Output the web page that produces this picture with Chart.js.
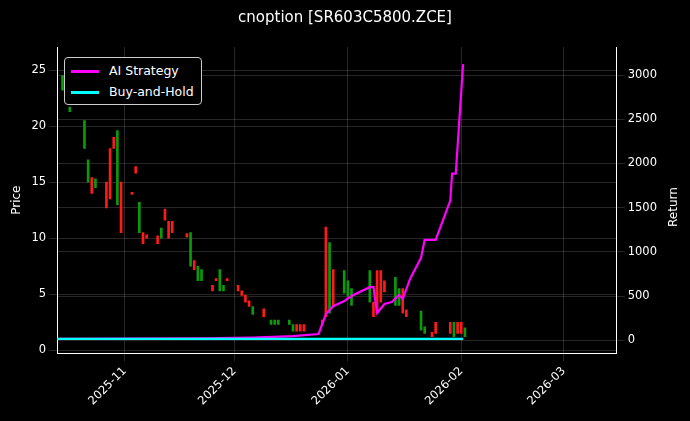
<!DOCTYPE html>
<html><head><meta charset="utf-8">
<script src="https://cdn.jsdelivr.net/npm/chart.js@4"></script>
<style>
body{margin:0;background:#000;width:690px;height:421px;overflow:hidden;font-family:"DejaVu Sans",sans-serif}
#wrap{position:relative;width:690px;height:421px}
#title{position:absolute;top:8px;left:0;width:690px;text-align:center;color:#fff;font-size:15px}
#legend{position:absolute;left:64px;top:57px;border:1px solid #ccc;border-radius:4px;background:#000;color:#fff;font-size:12.5px;padding:2px 7px 2px 6px;line-height:21px}
#legend span{display:inline-block;width:28px;height:3px;vertical-align:middle;margin-right:10px}
#ret{position:absolute;left:666px;color:#fff;font-size:12px;transform:rotate(-90deg);transform-origin:left top;top:227px}
</style></head>
<body><div id="wrap"><canvas id="c" width="690" height="421"></canvas>
<div id="title">cnoption [SR603C5800.ZCE]</div>
<div id="legend"><div><span style="background:#ff00ff"></span>AI Strategy</div><div><span style="background:#00ffff"></span>Buy-and-Hold</div></div>
<div id="ret">Return</div>
</div>
<script>
// days counted from 2025-11-01
const TICK_DAYS = [0, 30, 61, 92, 120];
const TICK_LABELS = ['2025-11', '2025-12', '2026-01', '2026-02', '2026-03'];

const candleDays = [-17,-15,-11,-10,-9,-8,-5,-4,-3,-2,-1,2,3,4,5,6,9,10,11,12,13,17,18,19,20,21,24,25,26,27,28,31,32,33,34,35,38,40,41,42,45,46,47,48,49,54,55,56,57,60,61,62,67,68,69,70,71,74,75,76,77,81,82,84,85,89,90,91,92,93];
const candleLow  = [23.2,21.3,18,15,14,14.5,12.7,13.5,18,13,10.5,13.9,15.8,10.5,9.5,10,9.5,10,11.6,10,10.5,10.1,7.5,7.2,6.2,6.2,5.3,6.2,5.3,5.3,6.2,5.3,4.9,4.3,3.9,3.2,3.0,2.3,2.3,2.3,2.3,1.7,1.7,1.7,1.7,2.3,3,3.3,3.9,5.1,4.8,4.0,4.3,3.0,3.3,4.3,5.2,4.0,4.0,3.3,3.0,1.8,1.5,1.2,1.5,1.5,1.2,1.5,1.5,1.2];
const candleHigh = [24.5,21.7,20.5,17,15.4,15.3,15,18,19,19.6,15,14.1,16.4,13.2,10.5,10.3,10.2,10.9,12.6,11.5,11.5,10.4,10.5,8,7.5,7.2,5.8,6.4,7.2,5.8,6.4,5.8,5.3,4.9,4.4,3.9,3.7,2.7,2.7,2.7,2.7,2.3,2.3,2.3,2.3,2.7,11,9.6,7.2,7.1,6.2,5.5,7.1,4.3,7.1,7.1,6.2,6.5,5.5,5.5,3.6,3.5,2.1,1.6,2.5,2.5,2.5,2.5,2.5,2.0];
const candleUp   = [1,1,1,1,0,1,0,0,0,1,0,0,0,1,0,0,0,1,0,0,0,0,1,0,1,1,0,0,1,1,0,0,0,0,0,1,0,1,1,1,1,1,0,0,0,0,0,1,0,1,1,1,1,0,0,0,0,1,1,0,0,1,1,0,0,0,1,0,0,1];

const stratDays = [-18.5,21,35,46,53,55,57,60,62,67,68,69,71,73,75,76,78,81,82,85,89,89.5,90.5,92.5];
const stratRet  = [15,20,30,45,70,295,385,443,500,600,600,307,409,432,511,466,693,932,1136,1136,1580,1886,1886,3125];
const holdDays = [-18.5, 92.5];
const holdRet  = [15, 15];

const gridOpts = { color: 'rgba(255,255,255,0.25)', lineWidth: 0.6 };
const tickFont = { size: 11.5, family: 'DejaVu Sans' };

new Chart(document.getElementById('c'), {
  data: {
    datasets: [
      {
        type: 'bar', yAxisID: 'y',
        data: candleDays.map((d, i) => ({ x: d, y: [candleLow[i], candleHigh[i]] })),
        backgroundColor: candleUp.map(u => u ? '#0a9a0a' : '#ff1a1a'),
        barThickness: 2, borderWidth: 0, grouped: false, order: 2,
      },
      {
        type: 'line', yAxisID: 'y2',
        data: stratDays.map((d, i) => ({ x: d, y: stratRet[i] })),
        borderColor: '#ff00ff', borderWidth: 2.2, pointRadius: 0, tension: 0, order: 1,
      },
      {
        type: 'line', yAxisID: 'y2',
        data: holdDays.map((d, i) => ({ x: d, y: holdRet[i] })),
        borderColor: '#00ffff', borderWidth: 2.2, pointRadius: 0, order: 0,
      },
    ],
  },
  options: {
    responsive: false, animation: false,
    layout: { padding: { top: 47, right: 30, left: 6, bottom: 10 } },
    plugins: { legend: { display: false }, tooltip: { enabled: false } },
    scales: {
      x: {
        type: 'linear', min: -18.5, max: 134.5, offset: false,
        afterBuildTicks: s => { s.ticks = TICK_DAYS.map(v => ({ value: v })); },
        ticks: {
          color: '#fff', font: tickFont, minRotation: 45, maxRotation: 45,
          callback: v => TICK_LABELS[TICK_DAYS.indexOf(v)],
        },
        grid: { ...gridOpts, offset: false }, border: { color: '#fff' },
      },
      y: {
        position: 'left', min: -0.27, max: 27.06,
        afterBuildTicks: s => { s.ticks = [0, 5, 10, 15, 20, 25].map(v => ({ value: v })); },
        ticks: { color: '#fff', font: tickFont },
        title: { display: true, text: 'Price', color: '#fff', font: { size: 12, family: 'DejaVu Sans' } },
        grid: gridOpts, border: { color: '#fff' },
      },
      y2: {
        position: 'right', min: -148, max: 3318,
        afterBuildTicks: s => { s.ticks = [0, 500, 1000, 1500, 2000, 2500, 3000].map(v => ({ value: v })); },
        ticks: { color: '#fff', font: tickFont, callback: v => String(v) },
        grid: { ...gridOpts, drawOnChartArea: true }, border: { color: '#fff' },
      },
    },
  },
});
</script></body></html>
